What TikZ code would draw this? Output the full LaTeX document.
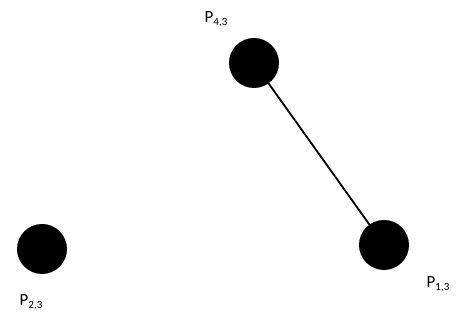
\documentclass[tikz,border=0pt]{standalone}
\usepackage{fontspec}
\setmainfont{Carlito}
\usetikzlibrary{positioning}
\newcommand{\psub}[1]{\raisebox{-0.35ex}{\fontsize{11}{12}\selectfont #1}}
\tikzset{
  dot/.style={circle,fill=black,inner sep=0pt,minimum size=50pt},
  plabel/.style={inner sep=0pt,font=\fontsize{17}{19}\selectfont}
}
\begin{document}
\begin{tikzpicture}[x=1pt,y=1pt]
\useasboundingbox (0,0) rectangle (459,320);
\node[dot] (p43) at (254,257) {};
\node[dot] (p23) at (42,71) {};
\node[dot] (p13) at (384,75) {};
\draw[line width=1.8pt] (p43.center)--(p13.center);
\node[plabel] (l43) at (216,301) {P\psub{4,3}};
\node[plabel] (l23) at (31,18) {P\psub{2,3}};
\node[plabel] (l13) at (438,36) {P\psub{1,3}};
\end{tikzpicture}
\end{document}
